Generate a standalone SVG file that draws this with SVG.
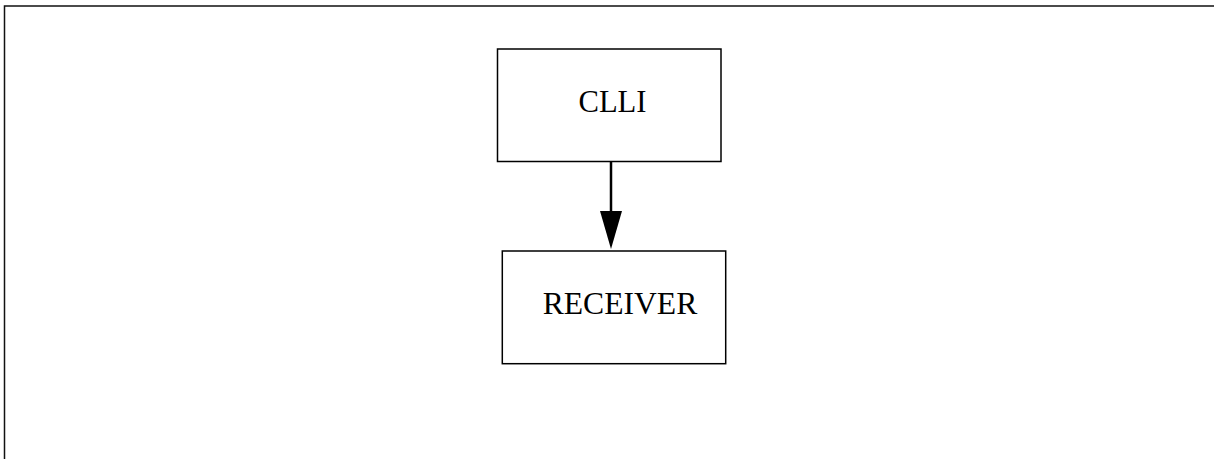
<svg xmlns="http://www.w3.org/2000/svg" width="1214" height="459" viewBox="0 0 1214 459">
<style>
.box{fill:#fff;stroke:#000;stroke-width:1.5}
.lbl{font-family:"Liberation Serif","Times New Roman",serif;font-size:31px;fill:#000}
.edge{stroke:#000;stroke-width:2.5;fill:none}
</style>
<rect x="4.5" y="6" width="1300" height="600" fill="#fff" stroke="#111" stroke-width="1.5"/>
<g id="connectors">
<line class="edge" x1="611" y1="162" x2="611" y2="212"/>
<polygon points="600,211 622,211 611,249" fill="#000"/>
</g>
<g id="node-clli">
<rect class="box" x="497.5" y="49" width="223.5" height="112.5"/>
<text class="lbl" x="578.5" y="111.7" textLength="68" lengthAdjust="spacingAndGlyphs">CLLI</text>
</g>
<g id="node-receiver">
<rect class="box" x="502.3" y="251" width="223.4" height="112.7"/>
<text class="lbl" x="542.7" y="314.3" textLength="154.6" lengthAdjust="spacingAndGlyphs">RECEIVER</text>
</g>
</svg>
